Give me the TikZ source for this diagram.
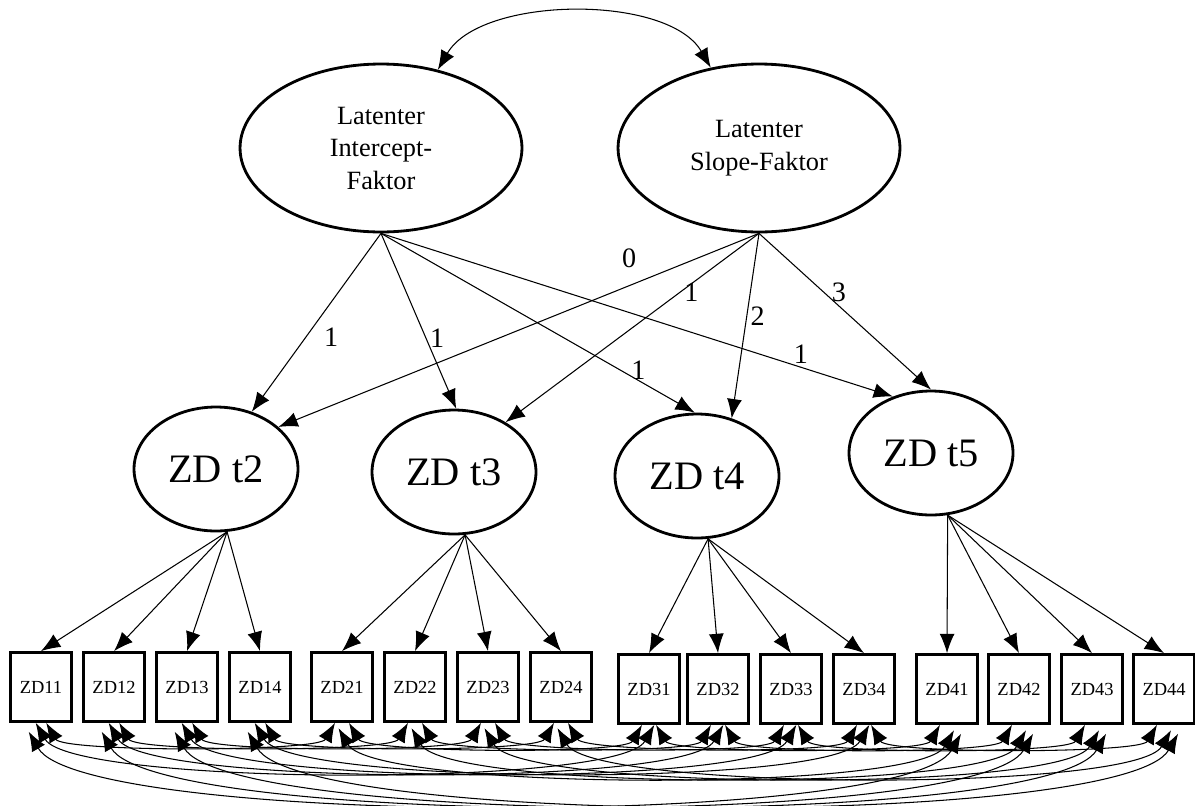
\documentclass[tikz,border=0pt]{standalone}
\usepackage{fontspec}
\setmainfont{Liberation Serif}
\usetikzlibrary{arrows.meta, shapes.geometric}

\begin{document}
\begin{tikzpicture}[x=0.02cm, y=-0.02cm,
  >={Latex[length=11pt,width=8.5pt]},
  factor/.style={ellipse, draw, line width=1.6pt, inner sep=0pt, minimum width=5.64cm, minimum height=3.36cm, align=center, font=\fontsize{15}{18.5}\selectfont},
  zd/.style={ellipse, draw, line width=1.6pt, inner sep=0pt, minimum width=3.28cm, minimum height=2.48cm, font=\fontsize{23}{27}\selectfont},
  item/.style={rectangle, draw, line width=1.6pt, inner sep=0pt, minimum width=1.22cm, minimum height=1.38cm, font=\fontsize{10.5}{12}\selectfont},
  load/.style={->, line width=0.6pt},
  cov/.style={<->, line width=0.6pt, out=-60, in=-120, looseness=0.3},
  lbl/.style={font=\fontsize{16}{18}\selectfont, inner sep=2pt}]
\useasboundingbox (0,0) rectangle (1195,805);

% latent growth factors
\node[factor] (I) at (381,148) {Latenter\\Intercept-\\Faktor};
\node[factor] (S) at (759,148) {Latenter\\Slope-Faktor};
\draw[<->, line width=0.6pt] (I.54) to[out=60, in=120, looseness=0.8] (S.121);

% first-order factors
\node[zd] (t2) at (216,469) {ZD t2};
\node[zd] (t3) at (454,472) {ZD t3};
\node[zd] (t4) at (697,476) {ZD t4};
\node[zd] (t5) at (931,453) {ZD t5};

\draw[load] (I.south) -- node[lbl, pos=0.58, right=8pt] {1} (t2.58);
\draw[load] (I.south) -- node[lbl, pos=0.6, right=0pt] {1} (t3.88);
\draw[load] (I.south) -- node[lbl, pos=0.82, above=-2pt] {1} (t4.92);
\draw[load] (I.south) -- node[lbl, pos=0.82, above] {1} (t5.124);
\draw[load] (S.south) -- node[lbl, pos=0.27, above=8pt] {0} (t2.34);
\draw[load] (S.south) -- node[lbl, pos=0.31, right=0pt] {1} (t3.44);
\draw[load] (S.south) -- node[lbl, pos=0.45, right=0pt] {2} (t4.59);
\draw[load] (S.south) -- node[lbl, pos=0.38, right=2pt] {3} (t5.90);

% indicators
\node[item] (z11) at (41,687) {ZD11};
\node[item] (z12) at (114,687) {ZD12};
\node[item] (z13) at (187,687) {ZD13};
\node[item] (z14) at (260,687) {ZD14};
\node[item] (z21) at (342,687) {ZD21};
\node[item] (z22) at (415,687) {ZD22};
\node[item] (z23) at (488,687) {ZD23};
\node[item] (z24) at (561,687) {ZD24};
\node[item] (z31) at (649,689) {ZD31};
\node[item] (z32) at (718,689) {ZD32};
\node[item] (z33) at (791,689) {ZD33};
\node[item] (z34) at (864,689) {ZD34};
\node[item] (z41) at (947,689) {ZD41};
\node[item] (z42) at (1019,689) {ZD42};
\node[item] (z43) at (1092,689) {ZD43};
\node[item] (z44) at (1164,689) {ZD44};

\draw[load] (t2.-80) -- (z11.north);
\draw[load] (t2.-80) -- (z12.north);
\draw[load] (t2.-80) -- (z13.north);
\draw[load] (t2.-80) -- (z14.north);
\draw[load] (t3.-80) -- (z21.north);
\draw[load] (t3.-80) -- (z22.north);
\draw[load] (t3.-80) -- (z23.north);
\draw[load] (t3.-80) -- (z24.north);
\draw[load] (t4.-80) -- (z31.north);
\draw[load] (t4.-80) -- (z32.north);
\draw[load] (t4.-80) -- (z33.north);
\draw[load] (t4.-80) -- (z34.north);
\draw[load] (t5.-75) -- (z41.north);
\draw[load] (t5.-75) -- (z42.north);
\draw[load] (t5.-75) -- (z43.north);
\draw[load] (t5.-75) -- (z44.north);

% residual covariances of the same item over time
\draw[cov] ([xshift=3pt]z11.south) to ([xshift=-4pt]z21.south);
\draw[cov] ([xshift=-3pt]z11.south) to ([xshift=3pt]z31.south);
\draw[cov] ([xshift=-7pt, yshift=-5pt]z11.south) to ([xshift=8pt, yshift=-5pt]z41.south);
\draw[cov] ([xshift=4pt]z21.south) to ([xshift=-4pt]z31.south);
\draw[cov] ([xshift=-2pt, yshift=-3pt]z21.south) to ([xshift=4pt, yshift=-3pt]z41.south);
\draw[cov] ([xshift=4pt]z31.south) to ([xshift=-4pt]z41.south);
\draw[cov] ([xshift=3pt]z12.south) to ([xshift=-4pt]z22.south);
\draw[cov] ([xshift=-3pt]z12.south) to ([xshift=3pt]z32.south);
\draw[cov] ([xshift=-7pt, yshift=-5pt]z12.south) to ([xshift=8pt, yshift=-5pt]z42.south);
\draw[cov] ([xshift=4pt]z22.south) to ([xshift=-4pt]z32.south);
\draw[cov] ([xshift=-2pt, yshift=-3pt]z22.south) to ([xshift=4pt, yshift=-3pt]z42.south);
\draw[cov] ([xshift=4pt]z32.south) to ([xshift=-4pt]z42.south);
\draw[cov] ([xshift=3pt]z13.south) to ([xshift=-4pt]z23.south);
\draw[cov] ([xshift=-3pt]z13.south) to ([xshift=3pt]z33.south);
\draw[cov] ([xshift=-7pt, yshift=-5pt]z13.south) to ([xshift=8pt, yshift=-5pt]z43.south);
\draw[cov] ([xshift=4pt]z23.south) to ([xshift=-4pt]z33.south);
\draw[cov] ([xshift=-2pt, yshift=-3pt]z23.south) to ([xshift=4pt, yshift=-3pt]z43.south);
\draw[cov] ([xshift=4pt]z33.south) to ([xshift=-4pt]z43.south);
\draw[cov] ([xshift=3pt]z14.south) to ([xshift=-4pt]z24.south);
\draw[cov] ([xshift=-3pt]z14.south) to ([xshift=3pt]z34.south);
\draw[cov] ([xshift=-7pt, yshift=-5pt]z14.south) to ([xshift=8pt, yshift=-5pt]z44.south);
\draw[cov] ([xshift=4pt]z24.south) to ([xshift=-4pt]z34.south);
\draw[cov] ([xshift=-2pt, yshift=-3pt]z24.south) to ([xshift=4pt, yshift=-3pt]z44.south);
\draw[cov] ([xshift=4pt]z34.south) to ([xshift=-4pt]z44.south);
\end{tikzpicture}
\end{document}
